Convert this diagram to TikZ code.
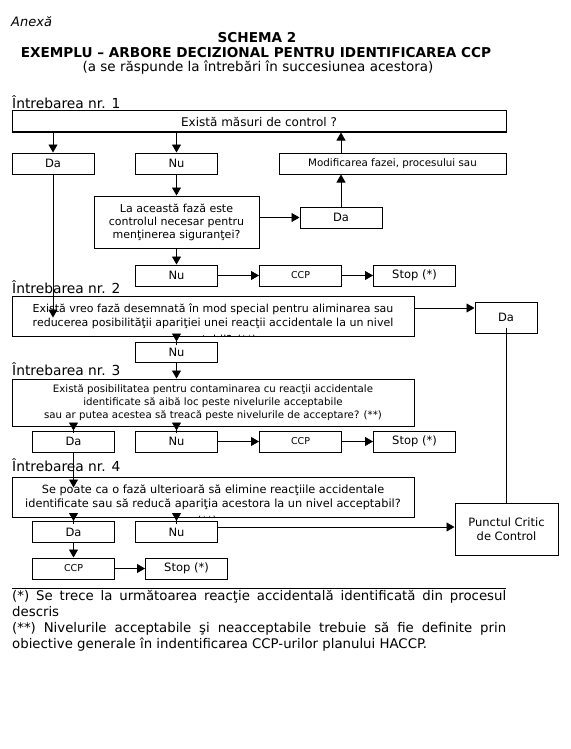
\documentclass[tikz,border=0pt]{standalone}
\usepackage{fontspec}
\setmainfont{DejaVu Sans}
\usepackage{tikz}
\usetikzlibrary{arrows.meta,positioning,calc}

\begin{document}
\begin{tikzpicture}[
  x=1pt,y=-1pt,
  every node/.style={font=\fontsize{11.5}{14}\selectfont,align=center,inner sep=1pt},
  box/.style={draw,line width=1pt,minimum width=82pt,minimum height=21pt},
  qbox/.style={draw,line width=1pt,minimum width=402pt},
  ccp/.style={box,font=\fontsize{9.5}{11}\selectfont},
  head/.style={font=\fontsize{13.8}{16}\selectfont,anchor=west,inner sep=0pt},
  arr/.style={-{Triangle[length=8pt,width=9pt]},line width=0.8pt}
]
\useasboundingbox (0,0) rectangle (570,749);
\node[font=\fontsize{13}{15}\selectfont\itshape,anchor=west,inner sep=0pt] (anexa) at (11,22) {Anexă};
\node[font=\fontsize{13.6}{16}\selectfont\bfseries] (schema) at (257,38) {SCHEMA 2};
\node[font=\fontsize{13.6}{16}\selectfont\bfseries] (titlu) at (256,53) {EXEMPLU – ARBORE DECIZIONAL PENTRU IDENTIFICAREA CCP};
\node[font=\fontsize{13.5}{16}\selectfont] (sub) at (258,68) {(a se răspunde la întrebări în succesiunea acestora)};

% intrebarea 1
\node[head] (intr1) at (12,102) {Întrebarea nr. 1};
\node[draw,line width=1pt,minimum width=494pt,minimum height=21pt,font=\fontsize{12}{14}\selectfont] (q1) at (259,121.5) {Există măsuri de control ?};
\node[box] (da1) at (53,163.5) {Da};
\node[box] (nu1) at (176.5,163.5) {Nu};
\node[box,minimum width=227pt,font=\fontsize{10.3}{12}\selectfont] (modif) at (392.5,163.5) {Modificarea fazei, procesului sau};
\node[draw,line width=1pt,minimum width=165pt,minimum height=52pt,font=\fontsize{11}{13}\selectfont] (qa) at (176.5,222) {La această fază este\\controlul necesar pentru\\menţinerea siguranţei?};
\node[box] (da2) at (341,217.5) {Da};
\node[box] (nu2) at (176.5,275.5) {Nu};
\node[ccp,right=41pt of nu2] (ccp1) {CCP};
\node[box,right=31pt of ccp1] (stop1) {Stop (*)};

% intrebarea 2
\node[head] (intr2) at (12,287) {Întrebarea nr. 2};
\node[qbox,minimum height=40pt,font=\fontsize{11}{14}\selectfont] (q2) at (213,316) {Există vreo fază desemnată în mod special pentru aliminarea sau\\reducerea posibilităţii apariţiei unei reacţii accidentale la un nivel};
\begin{scope}
  \clip (q2.north west) rectangle (q2.south east);
  \node[font=\fontsize{11}{14}\selectfont] (q2rest) at (213,340) {acceptabil? (**)};
\end{scope}
\node[box,minimum width=62pt,minimum height=31pt] (da3) at (506,317.5) {Da};
\node[box,minimum height=20pt] (nu3) at (176.5,352) {Nu};

% intrebarea 3
\node[head] (intr3) at (12,369) {Întrebarea nr. 3};
\node[qbox,minimum height=47pt,font=\fontsize{10.2}{13}\selectfont] (q3) at (213,402.5) {Există posibilitatea pentru contaminarea cu reacţii accidentale\\identificate să aibă loc peste nivelurile acceptabile\\sau ar putea acestea să treacă peste nivelurile de acceptare? (**)};
\node[box] (da4) at (73.5,441.5) {Da};
\node[box] (nu4) at (176.5,441.5) {Nu};
\node[ccp,right=41pt of nu4] (ccp2) {CCP};
\node[box,right=31pt of ccp2] (stop2) {Stop (*)};

% intrebarea 4
\node[head] (intr4) at (12,465) {Întrebarea nr. 4};
\node[qbox,minimum height=40pt,font=\fontsize{11.3}{14}\selectfont] (q4) at (213,497) {Se poate ca o fază ulterioară să elimine reacţiile accidentale\\identificate sau să reducă apariţia acestora la un nivel acceptabil?};
\begin{scope}
  \clip (q4.north west) rectangle (q4.south east);
  \node[font=\fontsize{11}{14}\selectfont] (q4rest) at (207,521) {(**)};
\end{scope}
\node[box] (da5) at (73.5,532) {Da};
\node[box] (nu5) at (176.5,532) {Nu};
\node[box,minimum width=103pt,minimum height=52pt] (pcc) at (506.5,529) {Punctul Critic\\de Control};
\node[ccp] (ccp3) at (73.5,568.5) {CCP};
\node[box,right=30pt of ccp3] (stop3) {Stop (*)};

% note
\draw[line width=1pt] (12,588) coordinate (rule1) -- (506,588) coordinate (rule2);
\node[anchor=north west,align=left,inner sep=0pt,font=\fontsize{13.3}{16}\selectfont] (note) at (12,590)
  {\makebox[494pt][s]{(*) Se trece la următoarea reacţie accidentală identificată din procesul}\\
   descris\\
   \makebox[494pt][s]{(**) Nivelurile acceptabile şi neacceptabile trebuie să fie definite prin}\\
   obiective generale în indentificarea CCP-urilor planului HACCP.};

\draw[arr] (q1.south -| da1) -- (da1);
\draw[arr] (q1.south -| nu1) -- (nu1);
\draw[arr] (nu1) -- (qa);
\draw[arr] (qa.east |- da2) -- (da2);
\draw[arr] (da2) -- (da2 |- modif.south);
\draw[arr] (da2 |- modif.north) -- (da2 |- q1.south);
\draw[arr] (qa) -- (nu2);
\draw[arr] (nu2) -- (ccp1);
\draw[arr] (ccp1) -- (stop1);
\draw[arr,shorten >=-22pt] (da1) -- (da1 |- q2.north);
\draw[arr,shorten <=-8pt] (q2.south -| nu3) -- (nu3);
\draw[arr] ([yshift=8pt]q2.east) -- ([yshift=8pt]q2.east -| da3.west);
\draw[line width=0.8pt,shorten <=-6pt] (da3) -- (da3 |- pcc.north);
\draw[arr] (nu3) -- (q3.north -| nu3);
\draw[arr,shorten <=-6pt] (q3.south -| da4) -- (da4);
\draw[arr,shorten <=-6pt] (q3.south -| nu4) -- (nu4);
\draw[arr] (nu4) -- (ccp2);
\draw[arr] (ccp2) -- (stop2);
\draw[arr,shorten >=-11pt] (da4) -- (da4 |- q4.north);
\draw[arr,shorten <=-6pt] (q4.south -| da5) -- (da5);
\draw[arr,shorten <=-6pt] (q4.south -| nu5) -- (nu5);
\draw[arr] ([yshift=5pt]nu5.east) -- ([yshift=5pt]nu5.east -| pcc.west);
\draw[arr] (da5) -- (ccp3);
\draw[arr] (ccp3) -- (stop3);
\end{tikzpicture}
\end{document}
